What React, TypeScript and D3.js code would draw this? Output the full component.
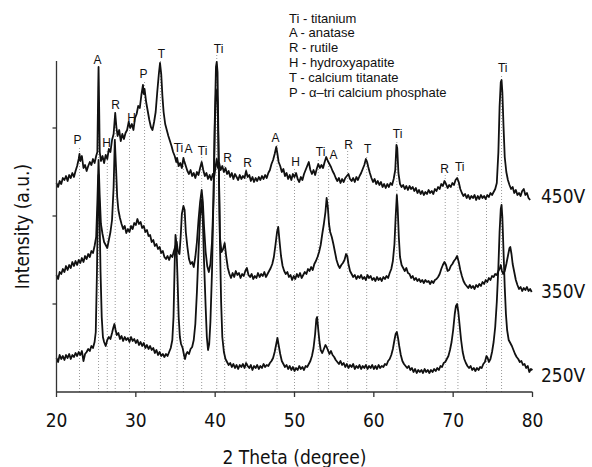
import React from 'react';
import * as d3 from 'd3';

// ---- data (2θ in degrees, intensity in arbitrary units, offset stacked) ----
const xTicks = [20, 30, 40, 50, 60, 70, 80];
const yTicks = [88, 176, 264];

const s450: [number, number][] = [
  [20.0, 209], [20.2, 205], [20.4, 211], [20.6, 208], [20.8, 214], [21.0, 212], [21.2, 216], [21.4, 211], [21.6, 217],
  [21.8, 214], [22.0, 219], [22.2, 215], [22.4, 221], [22.6, 226], [22.8, 233], [22.9, 238], [23.0, 231], [23.2, 236],
  [23.4, 224], [23.6, 227], [23.8, 221], [24.0, 226], [24.2, 230], [24.4, 227], [24.6, 233], [24.8, 229], [25.0, 236],
  [25.15, 240], [25.25, 300], [25.3, 325], [25.35, 300], [25.45, 240], [25.6, 231], [25.8, 236], [26.0, 229], [26.2, 237],
  [26.4, 233], [26.6, 243], [26.8, 240], [27.0, 252], [27.2, 258], [27.4, 279], [27.55, 265], [27.7, 256], [27.9, 262],
  [28.1, 251], [28.3, 258], [28.5, 253], [28.7, 259], [28.9, 262], [29.1, 270], [29.3, 264], [29.5, 268], [29.7, 262],
  [29.9, 274], [30.1, 278], [30.3, 286], [30.5, 284], [30.7, 297], [30.9, 307], [31.0, 298], [31.1, 303], [31.3, 290],
  [31.5, 281], [31.7, 272], [31.9, 265], [32.1, 262], [32.3, 270], [32.5, 280], [32.7, 300], [32.9, 318], [33.05, 329],
  [33.2, 318], [33.35, 296], [33.5, 280], [33.7, 268], [33.9, 262], [34.1, 256], [34.3, 251], [34.5, 246], [34.7, 240],
  [34.9, 236], [35.1, 230], [35.2, 234], [35.4, 226], [35.6, 229], [35.8, 224], [36.0, 234], [36.1, 231], [36.3, 226],
  [36.5, 221], [36.7, 218], [36.9, 222], [37.1, 216], [37.3, 219], [37.5, 214], [37.7, 220], [37.9, 217], [38.1, 224],
  [38.3, 230], [38.5, 222], [38.7, 216], [38.9, 219], [39.1, 213], [39.3, 217], [39.5, 212], [39.7, 218], [39.9, 216],
  [40.1, 228], [40.2, 233], [40.35, 224], [40.5, 229], [40.7, 222], [40.9, 226], [41.1, 220], [41.3, 224], [41.5, 218],
  [41.7, 221], [41.9, 215], [42.1, 219], [42.3, 213], [42.5, 218], [42.7, 215], [42.9, 212], [43.1, 217], [43.3, 213],
  [43.5, 216], [43.7, 214], [43.9, 221], [44.1, 215], [44.3, 217], [44.5, 211], [44.7, 215], [44.9, 210], [45.1, 214],
  [45.3, 211], [45.5, 215], [45.7, 212], [45.9, 216], [46.1, 213], [46.3, 217], [46.5, 214], [46.7, 219], [46.9, 222],
  [47.1, 228], [47.3, 232], [47.5, 238], [47.7, 245], [47.85, 238], [48.0, 230], [48.2, 226], [48.4, 220], [48.6, 223],
  [48.8, 216], [49.0, 219], [49.2, 213], [49.4, 217], [49.6, 212], [49.8, 218], [50.0, 215], [50.2, 219], [50.4, 213],
  [50.6, 210], [50.8, 215], [51.0, 212], [51.2, 218], [51.4, 222], [51.6, 226], [51.8, 230], [52.0, 222], [52.2, 218],
  [52.4, 222], [52.6, 217], [52.8, 223], [53.0, 228], [53.2, 224], [53.4, 227], [53.6, 224], [53.8, 230], [54.0, 235],
  [54.2, 231], [54.4, 228], [54.6, 225], [54.8, 221], [55.0, 218], [55.2, 214], [55.4, 211], [55.6, 214], [55.8, 209],
  [56.0, 213], [56.2, 210], [56.4, 214], [56.6, 216], [56.8, 218], [57.0, 213], [57.2, 211], [57.4, 214], [57.6, 210],
  [57.8, 215], [58.0, 212], [58.2, 216], [58.4, 219], [58.6, 223], [58.8, 227], [59.0, 233], [59.15, 230], [59.3, 225],
  [59.5, 219], [59.7, 214], [59.9, 210], [60.1, 213], [60.3, 208], [60.5, 211], [60.7, 207], [60.9, 210], [61.1, 205],
  [61.3, 208], [61.5, 204], [61.7, 208], [61.9, 205], [62.1, 209], [62.3, 207], [62.5, 213], [62.7, 222], [62.85, 247],
  [62.95, 244], [63.1, 219], [63.3, 208], [63.5, 205], [63.7, 207], [63.9, 203], [64.1, 206], [64.3, 202], [64.5, 206],
  [64.7, 203], [64.9, 205], [65.1, 201], [65.3, 204], [65.5, 199], [65.7, 202], [65.9, 198], [66.1, 201], [66.3, 197],
  [66.5, 200], [66.7, 198], [66.9, 202], [67.1, 199], [67.3, 201], [67.5, 198], [67.7, 203], [67.9, 201], [68.1, 205],
  [68.3, 203], [68.5, 208], [68.7, 206], [68.9, 211], [69.1, 208], [69.3, 204], [69.5, 207], [69.7, 205], [69.9, 209],
  [70.1, 207], [70.3, 212], [70.5, 214], [70.7, 210], [70.9, 203], [71.1, 199], [71.3, 196], [71.5, 198], [71.7, 194],
  [71.9, 197], [72.1, 193], [72.3, 196], [72.5, 194], [72.7, 197], [72.9, 192], [73.1, 196], [73.3, 193], [73.5, 197],
  [73.7, 194], [73.9, 196], [74.1, 193], [74.3, 197], [74.5, 195], [74.7, 199], [74.9, 197], [75.1, 200], [75.3, 203],
  [75.5, 209], [75.7, 240], [75.85, 285], [76.0, 310], [76.1, 312], [76.2, 300], [76.35, 265], [76.5, 235], [76.7, 220],
  [76.9, 212], [77.1, 207], [77.3, 203], [77.5, 205], [77.7, 199], [77.9, 202], [78.1, 197], [78.3, 199], [78.5, 196],
  [78.7, 201], [78.9, 203], [79.1, 197], [79.3, 199], [79.5, 194], [79.7, 192],
];

const s350: [number, number][] = [
  [20.0, 117], [20.2, 113], [20.4, 120], [20.6, 118], [20.8, 123], [21.0, 120], [21.2, 126], [21.4, 122], [21.6, 127],
  [21.8, 124], [22.0, 130], [22.2, 126], [22.4, 131], [22.6, 127], [22.8, 132], [23.0, 129], [23.2, 134], [23.4, 130],
  [23.6, 136], [23.8, 133], [24.0, 138], [24.2, 135], [24.4, 141], [24.6, 139], [24.8, 146], [25.0, 155], [25.15, 190],
  [25.3, 232], [25.45, 195], [25.6, 168], [25.8, 158], [26.0, 150], [26.2, 147], [26.4, 144], [26.6, 152], [26.8, 160],
  [27.0, 172], [27.2, 205], [27.35, 252], [27.5, 225], [27.65, 195], [27.8, 182], [28.0, 174], [28.2, 168], [28.4, 163],
  [28.6, 166], [28.8, 159], [29.0, 163], [29.2, 160], [29.4, 166], [29.6, 163], [29.8, 169], [30.0, 167], [30.2, 173],
  [30.4, 168], [30.6, 170], [30.8, 164], [31.0, 166], [31.2, 160], [31.4, 162], [31.6, 156], [31.8, 157], [32.0, 150],
  [32.2, 152], [32.4, 146], [32.6, 148], [32.8, 143], [33.0, 145], [33.2, 139], [33.4, 141], [33.6, 135], [33.8, 133],
  [34.0, 136], [34.2, 132], [34.4, 137], [34.6, 135], [34.8, 141], [35.0, 146], [35.15, 150], [35.3, 141], [35.5, 138],
  [35.65, 155], [35.8, 178], [36.0, 186], [36.15, 182], [36.3, 160], [36.5, 145], [36.7, 133], [36.9, 128], [37.1, 130],
  [37.3, 125], [37.5, 135], [37.7, 150], [37.9, 172], [38.1, 190], [38.3, 202], [38.45, 190], [38.6, 165], [38.8, 140],
  [39.0, 126], [39.2, 120], [39.4, 128], [39.6, 150], [39.8, 195], [39.95, 270], [40.1, 325], [40.2, 330], [40.3, 320],
  [40.45, 230], [40.6, 155], [40.8, 140], [41.0, 143], [41.2, 149], [41.4, 135], [41.6, 124], [41.8, 118], [42.0, 114],
  [42.2, 119], [42.4, 115], [42.6, 121], [42.8, 117], [43.0, 119], [43.2, 114], [43.4, 118], [43.6, 116], [43.8, 121],
  [44.0, 124], [44.2, 117], [44.4, 115], [44.6, 118], [44.8, 113], [45.0, 116], [45.2, 114], [45.4, 119], [45.6, 115],
  [45.8, 118], [46.0, 116], [46.2, 120], [46.4, 115], [46.6, 118], [46.8, 121], [47.0, 124], [47.2, 128], [47.4, 135],
  [47.6, 147], [47.8, 160], [47.95, 165], [48.1, 152], [48.3, 136], [48.5, 126], [48.7, 121], [48.9, 118], [49.1, 120],
  [49.3, 115], [49.5, 117], [49.7, 112], [49.9, 116], [50.1, 113], [50.3, 118], [50.5, 115], [50.7, 119], [50.9, 114],
  [51.1, 117], [51.3, 120], [51.5, 118], [51.7, 123], [51.9, 121], [52.1, 125], [52.3, 122], [52.5, 128], [52.7, 131],
  [52.9, 135], [53.1, 140], [53.3, 147], [53.5, 158], [53.7, 168], [53.9, 180], [54.05, 194], [54.2, 185], [54.35, 168],
  [54.5, 160], [54.7, 155], [54.9, 148], [55.1, 140], [55.3, 132], [55.5, 127], [55.7, 124], [55.9, 127], [56.1, 129],
  [56.3, 132], [56.5, 138], [56.65, 136], [56.8, 128], [57.0, 121], [57.2, 118], [57.4, 115], [57.6, 117], [57.8, 113],
  [58.0, 116], [58.2, 114], [58.4, 117], [58.6, 113], [58.8, 115], [59.0, 112], [59.2, 117], [59.4, 114], [59.6, 116],
  [59.8, 112], [60.0, 114], [60.2, 111], [60.4, 115], [60.6, 112], [60.8, 114], [61.0, 111], [61.2, 115], [61.4, 113],
  [61.6, 116], [61.8, 114], [62.0, 119], [62.2, 123], [62.4, 131], [62.6, 148], [62.75, 175], [62.9, 197], [63.0, 185],
  [63.15, 155], [63.3, 135], [63.5, 127], [63.7, 124], [63.9, 121], [64.1, 124], [64.3, 119], [64.5, 118], [64.7, 114],
  [64.9, 116], [65.1, 112], [65.3, 114], [65.5, 111], [65.7, 113], [65.9, 110], [66.1, 112], [66.3, 109], [66.5, 112],
  [66.7, 110], [66.9, 111], [67.1, 108], [67.3, 111], [67.5, 109], [67.7, 112], [67.9, 113], [68.1, 115], [68.3, 118],
  [68.5, 123], [68.7, 127], [68.9, 130], [69.1, 127], [69.3, 121], [69.5, 122], [69.7, 126], [69.9, 128], [70.1, 131],
  [70.3, 133], [70.5, 136], [70.7, 130], [70.9, 122], [71.1, 116], [71.3, 111], [71.5, 108], [71.7, 106], [71.9, 104],
  [72.1, 107], [72.3, 104], [72.5, 106], [72.7, 103], [72.9, 107], [73.1, 105], [73.3, 108], [73.5, 106], [73.7, 110],
  [73.9, 108], [74.1, 112], [74.3, 110], [74.5, 114], [74.7, 112], [74.9, 116], [75.1, 115], [75.3, 118], [75.5, 117],
  [75.7, 121], [75.9, 124], [76.0, 127], [76.15, 121], [76.3, 118], [76.5, 121], [76.7, 128], [76.9, 136], [77.1, 144],
  [77.2, 145], [77.35, 138], [77.5, 128], [77.7, 120], [77.9, 112], [78.1, 107], [78.3, 103], [78.5, 105], [78.7, 101],
  [78.9, 104], [79.1, 102], [79.3, 105], [79.5, 101], [79.7, 103], [79.9, 100],
];

const s250: [number, number][] = [
  [20.0, 34], [20.2, 30], [20.4, 37], [20.6, 33], [20.8, 36], [21.0, 32], [21.2, 37], [21.4, 34], [21.6, 38], [21.8, 33],
  [22.0, 37], [22.2, 35], [22.4, 39], [22.6, 36], [22.8, 40], [23.0, 37], [23.2, 41], [23.4, 31], [23.6, 38], [23.8, 40],
  [24.0, 43], [24.2, 41], [24.4, 46], [24.6, 44], [24.8, 50], [24.95, 60], [25.1, 120], [25.25, 205], [25.3, 217],
  [25.4, 190], [25.55, 120], [25.7, 75], [25.85, 55], [26.0, 50], [26.2, 46], [26.4, 52], [26.6, 55], [26.8, 53],
  [27.0, 59], [27.15, 64], [27.3, 68], [27.45, 62], [27.6, 57], [27.8, 59], [28.0, 53], [28.2, 56], [28.4, 51], [28.6, 55],
  [28.8, 52], [29.0, 54], [29.2, 50], [29.4, 55], [29.6, 51], [29.8, 53], [30.0, 49], [30.2, 52], [30.4, 47], [30.6, 50],
  [30.8, 46], [31.0, 49], [31.2, 44], [31.4, 47], [31.6, 43], [31.8, 46], [32.0, 42], [32.2, 44], [32.4, 39], [32.6, 42],
  [32.8, 37], [33.0, 40], [33.2, 36], [33.4, 38], [33.6, 35], [33.8, 38], [34.0, 36], [34.2, 40], [34.4, 44], [34.6, 52],
  [34.75, 75], [34.9, 130], [35.0, 157], [35.1, 150], [35.25, 115], [35.4, 75], [35.55, 55], [35.7, 48], [35.9, 44],
  [36.1, 36], [36.2, 33], [36.35, 38], [36.5, 40], [36.7, 38], [36.9, 43], [37.1, 45], [37.3, 52], [37.5, 68], [37.7, 100],
  [37.9, 140], [38.1, 175], [38.3, 192], [38.45, 170], [38.6, 130], [38.8, 85], [38.95, 55], [39.1, 42], [39.25, 48],
  [39.4, 70], [39.6, 120], [39.8, 200], [39.95, 265], [40.1, 300], [40.2, 302], [40.3, 290], [40.45, 230], [40.6, 150],
  [40.75, 90], [40.9, 55], [41.1, 40], [41.3, 33], [41.5, 30], [41.7, 27], [41.9, 29], [42.1, 25], [42.3, 28], [42.5, 24],
  [42.7, 27], [42.9, 23], [43.1, 27], [43.3, 25], [43.5, 28], [43.7, 24], [43.9, 29], [44.1, 26], [44.3, 24], [44.5, 27],
  [44.7, 22], [44.9, 26], [45.1, 24], [45.3, 27], [45.5, 23], [45.7, 26], [45.9, 24], [46.1, 28], [46.3, 25], [46.5, 27],
  [46.7, 26], [46.9, 29], [47.1, 31], [47.3, 34], [47.5, 40], [47.7, 48], [47.85, 54], [48.0, 47], [48.2, 38], [48.4, 31],
  [48.6, 28], [48.8, 25], [49.0, 27], [49.2, 23], [49.4, 26], [49.6, 22], [49.8, 25], [50.0, 21], [50.2, 24], [50.4, 22],
  [50.6, 26], [50.8, 23], [51.0, 25], [51.2, 22], [51.4, 26], [51.6, 25], [51.8, 28], [52.0, 31], [52.2, 36], [52.4, 44],
  [52.6, 58], [52.75, 73], [52.85, 75], [53.0, 62], [53.15, 50], [53.3, 42], [53.5, 39], [53.7, 43], [53.9, 47], [54.05, 45],
  [54.2, 42], [54.4, 38], [54.6, 41], [54.8, 37], [55.0, 35], [55.2, 32], [55.4, 30], [55.6, 28], [55.8, 31], [56.0, 27],
  [56.2, 29], [56.4, 25], [56.6, 28], [56.8, 24], [57.0, 27], [57.2, 25], [57.4, 28], [57.6, 23], [57.8, 26], [58.0, 24],
  [58.2, 27], [58.4, 23], [58.6, 26], [58.8, 24], [59.0, 27], [59.2, 23], [59.4, 26], [59.6, 24], [59.8, 27], [60.0, 23],
  [60.2, 26], [60.4, 23], [60.6, 27], [60.8, 24], [61.0, 26], [61.2, 25], [61.4, 28], [61.6, 27], [61.8, 31], [62.0, 33],
  [62.2, 37], [62.4, 43], [62.6, 52], [62.75, 58], [62.9, 60], [63.05, 54], [63.2, 46], [63.4, 37], [63.6, 31], [63.8, 28],
  [64.0, 26], [64.2, 24], [64.4, 26], [64.6, 22], [64.8, 24], [65.0, 20], [65.2, 23], [65.4, 19], [65.6, 22], [65.8, 20],
  [66.0, 22], [66.2, 19], [66.4, 23], [66.6, 20], [66.8, 22], [67.0, 19], [67.2, 22], [67.4, 20], [67.6, 23], [67.8, 21],
  [68.0, 24], [68.2, 22], [68.4, 26], [68.6, 25], [68.8, 29], [69.0, 30], [69.2, 33], [69.4, 36], [69.6, 42], [69.8, 50],
  [70.0, 62], [70.2, 78], [70.35, 86], [70.5, 88], [70.65, 80], [70.8, 68], [71.0, 52], [71.2, 40], [71.4, 33], [71.6, 29],
  [71.8, 26], [72.0, 24], [72.2, 26], [72.4, 22], [72.6, 24], [72.8, 21], [73.0, 24], [73.2, 22], [73.4, 25], [73.6, 24],
  [73.8, 28], [74.0, 30], [74.2, 36], [74.35, 34], [74.5, 30], [74.7, 33], [74.9, 40], [75.1, 50], [75.3, 65], [75.5, 90],
  [75.7, 125], [75.85, 160], [76.0, 183], [76.1, 187], [76.2, 175], [76.35, 140], [76.5, 105], [76.65, 78], [76.8, 62],
  [77.0, 52], [77.2, 49], [77.4, 46], [77.6, 42], [77.8, 38], [78.0, 35], [78.2, 33], [78.4, 30], [78.6, 31], [78.8, 27],
  [79.0, 28], [79.2, 24], [79.4, 26], [79.6, 20], [79.8, 23], [80.0, 22],
];

const seriesNames = ['450V', '350V', '250V'];
const seriesLabelLevel = [196, 101, 17];

// peak markers: symbol, dotted-line 2θ, label 2θ, label level
const peakSymbols = ['P', 'A', 'H', 'R', 'H', 'P', 'T', 'Ti', 'A', 'Ti', 'Ti', 'R', 'R', 'A', 'H', 'Ti', 'A', 'R', 'T', 'Ti', 'R', 'Ti', 'Ti'];
const peakLineTheta = [22.9, 25.3, 26.4, 27.4, 29.2, 31.1, 33.1, 35.2, 36.0, 38.3, 40.2, 41.2, 43.9, 47.8, 50.0, 53.0, 54.3, 56.7, 59.1, 62.9, 69.0, 70.6, 76.1];
const peakLabelTheta = [22.65, 25.17, 26.31, 27.44, 29.46, 30.97, 33.24, 35.38, 36.65, 38.41, 40.43, 41.56, 44.09, 47.62, 50.14, 53.29, 54.93, 56.82, 59.22, 63.0, 68.93, 70.82, 76.24];
const peakLabelLevel = [253, 333, 250, 288, 275, 319, 339, 245, 244, 242, 344, 235, 230, 255, 231, 241, 238, 248, 244, 259, 224, 226, 325];
const extraLineTheta = [74.2];

const legendLines = [
  'Ti - titanium',
  'A - anatase',
  'R - rutile',
  'H - hydroxyapatite',
  'T - calcium titanate',
  'P - \u03b1\u2013tri calcium phosphate',
];

const W = 592;
const H = 467;
const margin = { left: 56.5, right: 532.5, top: 61, bottom: 392 };

function interp(series: [number, number][], t: number): number {
  for (let i = 1; i < series.length; i++) {
    if (series[i][0] >= t) {
      const [x0, y0] = series[i - 1];
      const [x1, y1] = series[i];
      return y0 + ((y1 - y0) * (t - x0)) / (x1 - x0);
    }
  }
  return series[series.length - 1][1];
}

export default function App() {
  const x = d3.scaleLinear().domain([20, 80]).range([margin.left, margin.right]);
  const y = d3.scaleLinear().domain([0, 331]).range([margin.bottom, margin.top]);
  const line = d3
    .line<[number, number]>()
    .x((d) => x(d[0]))
    .y((d) => y(d[1]));
  const allSeries = [s450, s350, s250];
  const numFont = "'DejaVu Sans Condensed', 'DejaVu Sans', sans-serif";
  const smallFont = "'Liberation Sans', Arial, sans-serif";

  return (
    <svg
      width={W}
      height={H}
      style={{ position: 'absolute', left: 0, top: 0, background: '#fff' }}
    >
      <rect x={0} y={0} width={W} height={H} fill="#fff" />
      {/* dotted reference lines */}
      <g stroke="#9a9a9a" strokeWidth={1} strokeDasharray="1,2">
        {peakLineTheta.map((t, i) => (
          <line key={'pl' + i} x1={x(t)} x2={x(t)} y1={y(0)} y2={y(peakLabelLevel[i]) + 7} />
        ))}
        {extraLineTheta.map((t, i) => (
          <line key={'el' + i} x1={x(t)} x2={x(t)} y1={y(0)} y2={y(interp(s450, t))} />
        ))}
      </g>
      {/* traces */}
      {allSeries.map((s, i) => (
        <path
          key={'s' + i}
          d={line(s) || ''}
          fill="none"
          stroke="#111"
          strokeWidth={1.8}
          strokeLinejoin="round"
        />
      ))}
      {/* axes */}
      <g stroke="#333" strokeWidth={1.3}>
        <line x1={margin.left} x2={margin.left} y1={margin.top} y2={margin.bottom} />
        <line x1={margin.left} x2={margin.right} y1={margin.bottom} y2={margin.bottom} />
        {yTicks.map((t) => (
          <line key={'yt' + t} x1={margin.left - 4} x2={margin.left} y1={y(t)} y2={y(t)} />
        ))}
        {xTicks.map((t) => (
          <line key={'xt' + t} x1={x(t)} x2={x(t)} y1={margin.bottom} y2={margin.bottom + 5} />
        ))}
      </g>
      {xTicks.map((t) => (
        <text
          key={'xl' + t}
          x={x(t)}
          y={427}
          textAnchor="middle"
          fontFamily={numFont}
          fontSize={19}
          fill="#111"
        >
          {t}
        </text>
      ))}
      <text
        x={(margin.left + margin.right) / 2}
        y={464}
        textAnchor="middle"
        fontFamily={numFont}
        fontSize={19}
        fill="#111"
      >
        2 Theta (degree)
      </text>
      <text
        transform={`translate(29, ${(margin.top + margin.bottom) / 2}) rotate(-90)`}
        textAnchor="middle"
        fontFamily={numFont}
        fontSize={19}
        fill="#111"
      >
        Intensity (a.u.)
      </text>
      {seriesNames.map((n, i) => (
        <text
          key={'sn' + i}
          x={541}
          y={y(seriesLabelLevel[i]) + 7}
          fontFamily={numFont}
          fontSize={19}
          fill="#111"
        >
          {n}
        </text>
      ))}
      {peakSymbols.map((s, i) => (
        <text
          key={'pk' + i}
          x={x(peakLabelTheta[i])}
          y={y(peakLabelLevel[i]) + 4.5}
          textAnchor="middle"
          fontFamily={smallFont}
          fontSize={12}
          fill="#111"
        >
          {s}
        </text>
      ))}
      {legendLines.map((l, i) => (
        <text
          key={'lg' + i}
          x={289}
          y={22.5 + i * 14.8}
          fontFamily={smallFont}
          fontSize={13}
          fill="#111"
        >
          {l}
        </text>
      ))}
    </svg>
  );
}
